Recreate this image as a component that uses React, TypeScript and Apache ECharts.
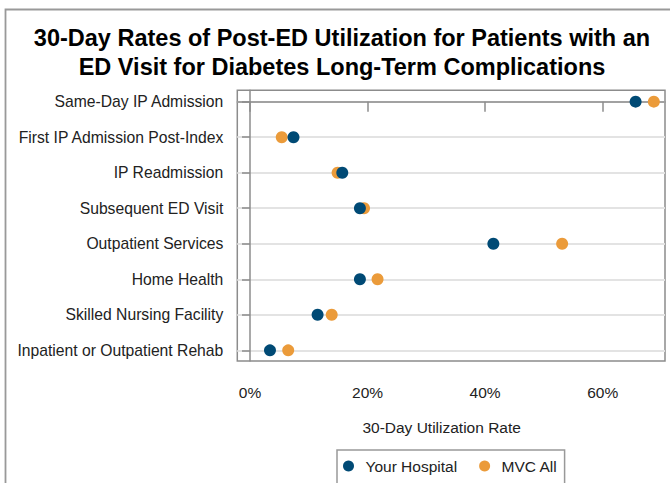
import React, { useEffect, useRef } from "react";
import * as echarts from "echarts";

const categories = [
  "Same-Day IP Admission",
  "First IP Admission Post-Index",
  "IP Readmission",
  "Subsequent ED Visit",
  "Outpatient Services",
  "Home Health",
  "Skilled Nursing Facility",
  "Inpatient or Outpatient Rehab",
];
const yourHospital = [65.6, 7.4, 15.7, 18.7, 41.4, 18.7, 11.5, 3.4];
const mvcAll = [68.7, 5.4, 14.9, 19.4, 53.1, 21.7, 13.9, 6.5];
const xTicks = [0, 20, 40, 60];
const seriesNames = ["Your Hospital", "MVC All"];
const titleText =
  "30-Day Rates of Post-ED Utilization for Patients with an\nED Visit for Diabetes Long-Term Complications";

const BLUE = "#004a75";
const ORANGE = "#eb9b3a";
const FONT = "'Liberation Sans', Arial, sans-serif";

export default function App() {
  const ref = useRef<HTMLDivElement>(null);
  useEffect(() => {
    if (!ref.current) return;
    const chart = echarts.init(ref.current, null, { renderer: "svg" });
    const idx = categories.map((_, i) => i);
    chart.setOption({
      animation: false,
      backgroundColor: "#ffffff",
      textStyle: { fontFamily: FONT },
      title: {
        text: titleText,
        left: 337,
        textAlign: "center",
        top: 18.5,
        textStyle: {
          fontFamily: FONT,
          fontSize: 23.5,
          fontWeight: "bold",
          color: "#000",
          lineHeight: 29,
        },
      },
      graphic: [
        {
          type: "rect",
          shape: { x: 5.5, y: 9.5, width: 720, height: 520 },
          style: { fill: "none", stroke: "#999", lineWidth: 1.8 },
          silent: true,
          z: 0,
        },
      ],
      legend: {
        data: seriesNames,
        left: 337,
        top: 450,
        orient: "horizontal",
        icon: "circle",
        itemWidth: 24,
        itemHeight: 11,
        itemGap: 22,
        padding: [8, 7, 10, 6],
        borderColor: "#999",
        borderWidth: 1.5,
        textStyle: { fontFamily: FONT, fontSize: 15.5, color: "#222" },
      },
      grid: {
        left: 237.3,
        right: 5,
        top: 90.3,
        height: 270.7,
        show: true,
        borderColor: "#8c8c8c",
        borderWidth: 1.5,
        containLabel: false,
      },
      xAxis: {
        type: "value",
        min: -2.16,
        max: 70.6,
        name: "30-Day Utilization Rate",
        nameLocation: "middle",
        nameGap: 58,
        nameTextStyle: {
          fontFamily: FONT,
          fontSize: 15.5,
          color: "#222",
          padding: [0, 19, 0, 0],
        },
        axisLine: { show: true, lineStyle: { color: "#8c8c8c", width: 1.5 } },
        axisTick: {
          show: true,
          length: 10,
          customValues: xTicks,
          lineStyle: { color: "#8c8c8c", width: 1.5 },
        },
        axisLabel: {
          customValues: xTicks,
          formatter: (v: number) => `${v}%`,
          margin: 23,
          fontFamily: FONT,
          fontSize: 15.5,
          color: "#222",
        },
        splitLine: { show: false },
      },
      yAxis: {
        type: "value",
        inverse: true,
        min: -0.32,
        max: 7.3,
        axisLine: { show: true, lineStyle: { color: "#8c8c8c", width: 1.5 } },
        axisTick: {
          show: true,
          length: 8,
          customValues: idx,
          lineStyle: { color: "#8c8c8c", width: 1.5 },
        },
        axisLabel: {
          customValues: idx,
          formatter: (v: number) => categories[Math.round(v)] ?? "",
          margin: 14,
          fontFamily: FONT,
          fontSize: 15.7,
          color: "#222",
        },
        splitLine: {
          show: true,
          lineStyle: { color: "#e3e3e3", width: 2 },
        },
      },
      series: [
        {
          name: seriesNames[0],
          type: "scatter",
          symbol: "circle",
          symbolSize: 12,
          itemStyle: { color: BLUE, opacity: 1 },
          z: 4,
          data: yourHospital.map((v, i) => [v, i]),
        },
        {
          name: seriesNames[1],
          type: "scatter",
          symbol: "circle",
          symbolSize: 12,
          itemStyle: { color: ORANGE, opacity: 1 },
          z: 3,
          data: mvcAll.map((v, i) => [v, i]),
        },
      ],
    });
    return () => chart.dispose();
  }, []);
  return <div ref={ref} style={{ width: 670, height: 483, position: "absolute", left: 0, top: 0 }} />;
}
